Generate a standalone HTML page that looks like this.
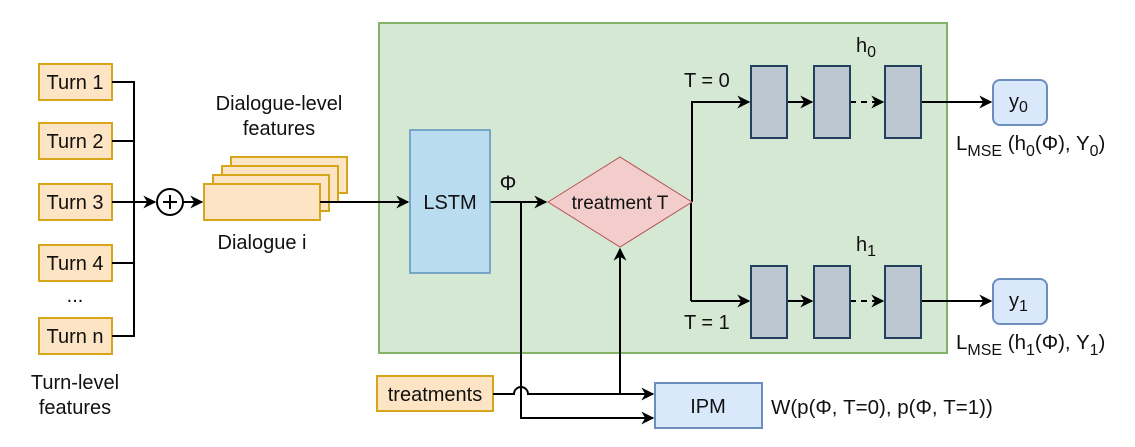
<!DOCTYPE html>
<html><head><meta charset="utf-8"><style>
html,body{margin:0;padding:0;background:#fff}
svg text{font-family:"Liberation Sans",Arial,sans-serif;fill:#111}
</style></head><body>
<svg width="1135" height="442" viewBox="0 0 1135 442" xmlns="http://www.w3.org/2000/svg">
<defs>
<marker id="b" viewBox="0 0 10 10" refX="9" refY="5" markerWidth="13" markerHeight="13" orient="auto" markerUnits="userSpaceOnUse"><path d="M0,0 L10,5 L0,10 L3,5 Z" fill="#000"/></marker></defs>
<rect x="379" y="23" width="568" height="330" fill="#d5e8d4" stroke="#82b366" stroke-width="2"/>
<g stroke="#d6a51a" stroke-width="2" fill="#fce4c4">
<rect x="39" y="64" width="73" height="36"/>
<rect x="39" y="123" width="73" height="36"/>
<rect x="39" y="184" width="73" height="36"/>
<rect x="39" y="245" width="73" height="36"/>
<rect x="39" y="318" width="73" height="36"/>
<rect x="231" y="157" width="116" height="36"/>
<rect x="222" y="166" width="116" height="36"/>
<rect x="213" y="175" width="116" height="36"/>
<rect x="204" y="184" width="116" height="36"/>
<rect x="377" y="376" width="116" height="35"/>
</g>
<g font-size="20" text-anchor="middle">
<text x="75" y="89">Turn 1</text><text x="75" y="148">Turn 2</text><text x="75" y="209">Turn 3</text><text x="75" y="270">Turn 4</text><text x="75" y="343">Turn n</text>
<text x="75" y="302">...</text>
<text x="75" y="389">Turn-level</text><text x="75" y="414">features</text>
<text x="279" y="110">Dialogue-level</text><text x="279" y="135">features</text>
<text x="262" y="249">Dialogue i</text>
<text x="435" y="401">treatments</text>
</g>
<g fill="none" stroke="#000" stroke-width="2">
<path d="M112,82 H134 V336 H112 M112,141 H134 M112,263 H134"/>
<path d="M112,202 H155" marker-end="url(#b)"/>
<circle cx="170" cy="202" r="13"/>
<path d="M163,202 H177 M170,195 V209"/>
<path d="M183,202 H202" marker-end="url(#b)"/>
<path d="M320,202 H408" marker-end="url(#b)"/>
<path d="M490,202 H546" marker-end="url(#b)"/>
<path d="M521,202 V418 H653" marker-end="url(#b)"/>
<path d="M493,394 H514 A7,7 0 0 1 528,394 H653" marker-end="url(#b)"/>
<path d="M620,394 V249" marker-end="url(#b)"/>
<path d="M692,202 V102 M691,202 V301" />
<path d="M691,102 H749" marker-end="url(#b)"/>
<path d="M691,301 H749" marker-end="url(#b)"/>
<path d="M787,102 H812" marker-end="url(#b)"/>
<path d="M787,301 H812" marker-end="url(#b)"/>
<path d="M850,102 H883" stroke-dasharray="6,5" marker-end="url(#b)"/>
<path d="M850,301 H883" stroke-dasharray="6,5" marker-end="url(#b)"/>
<path d="M921,102 H991" marker-end="url(#b)"/>
<path d="M921,301 H991" marker-end="url(#b)"/>
</g>
<rect x="410" y="130" width="80" height="143" fill="#b9dcee" stroke="#5b93bd" stroke-width="1.5"/>
<text x="450" y="209" font-size="20" text-anchor="middle">LSTM</text>
<text x="508" y="190" font-size="21" text-anchor="middle">Φ</text>
<polygon points="548,202 620,157 692,202 620,247" fill="#f3cccc" stroke="#b85450" stroke-width="1"/>
<text x="620" y="209" font-size="19" text-anchor="middle">treatment T</text>
<g fill="#bdc7d1" stroke="#23405e" stroke-width="2">
<rect x="751" y="66" width="36" height="72"/><rect x="814" y="66" width="36" height="72"/><rect x="885" y="66" width="36" height="72"/>
<rect x="751" y="266" width="36" height="72"/><rect x="814" y="266" width="36" height="72"/><rect x="885" y="266" width="36" height="72"/>
</g>
<g font-size="20">
<text x="684" y="87">T = 0</text><text x="684" y="329">T = 1</text>
<text x="856" y="52">h<tspan font-size="16" dy="5">0</tspan></text>
<text x="856" y="251">h<tspan font-size="16" dy="5">1</tspan></text>
</g>
<rect x="993" y="80" width="54" height="45" rx="7" fill="#dae8fc" stroke="#6c8ebf" stroke-width="2"/>
<rect x="993" y="279" width="54" height="45" rx="7" fill="#dae8fc" stroke="#6c8ebf" stroke-width="2"/>
<text x="1009" y="108" font-size="20">y<tspan font-size="16" dy="4">0</tspan></text>
<text x="1009" y="307" font-size="20">y<tspan font-size="16" dy="4">1</tspan></text>
<text x="956" y="150" font-size="20.5">L<tspan font-size="16" dy="6">MSE</tspan><tspan dy="-6"> (h</tspan><tspan font-size="16" dy="6">0</tspan><tspan dy="-6">(Φ), Y</tspan><tspan font-size="16" dy="6">0</tspan><tspan dy="-6">)</tspan></text>
<text x="956" y="349" font-size="20.5">L<tspan font-size="16" dy="6">MSE</tspan><tspan dy="-6"> (h</tspan><tspan font-size="16" dy="6">1</tspan><tspan dy="-6">(Φ), Y</tspan><tspan font-size="16" dy="6">1</tspan><tspan dy="-6">)</tspan></text>
<rect x="655" y="383" width="107" height="45" fill="#dae8fc" stroke="#6c8ebf" stroke-width="2"/>
<text x="708" y="413" font-size="20" text-anchor="middle">IPM</text>
<text x="771" y="414" font-size="20.5">W(p(Φ, T=0), p(Φ, T=1))</text>
</svg>
</body></html>
